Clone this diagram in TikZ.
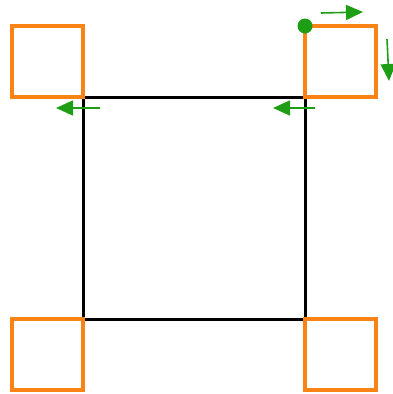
\documentclass[tikz,border=0pt]{standalone}
\usetikzlibrary{arrows.meta}
\definecolor{tileorange}{RGB}{249,131,20}
\definecolor{stepgreen}{RGB}{30,158,20}
\begin{document}
\begin{tikzpicture}[x=1pt, y=-1pt,
  tile/.style={draw=tileorange, line width=4pt, minimum size=71pt, inner sep=0pt, outer sep=0pt},
  move/.style={draw=stepgreen, line width=1.6pt, -{Triangle[length=17pt, width=15pt]}}]
  \useasboundingbox (0,0) rectangle (393,394);
  % big square and the four corner tiles
  \node[draw, line width=3pt, minimum size=222pt, inner sep=0pt, outer sep=0pt] (board) at (194,208) {};
  \node[tile, anchor=south east] (tl) at (board.north west) {};
  \node[tile, anchor=south west] (tr) at (board.north east) {};
  \node[tile, anchor=north east] (bl) at (board.south west) {};
  \node[tile, anchor=north west] (br) at (board.south east) {};
  \fill[stepgreen] (tr.north west) circle (7.5);
  % motion arrows
  \coordinate (r0) at (321,13); \coordinate (r1) at (363,12);
  \coordinate (d0) at (387,39); \coordinate (d1) at (389,81);
  \coordinate (a0) at (100,108); \coordinate (a1) at (56,108);
  \coordinate (b0) at (315,108); \coordinate (b1) at (273,108);
  \draw[move] (r0) -- (r1);
  \draw[move] (d0) -- (d1);
  \draw[move] (a0) -- (a1);
  \draw[move] (b0) -- (b1);
\end{tikzpicture}
\end{document}
